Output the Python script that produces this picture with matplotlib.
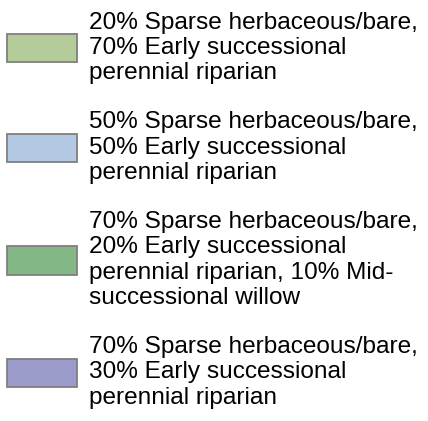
import matplotlib
matplotlib.use('Agg')
import matplotlib.pyplot as plt
from matplotlib.patches import Patch

plt.rcParams['font.family'] = ['Liberation Sans', 'DejaVu Sans']

# legend entries
labels = [
    "20% Sparse herbaceous/bare,\n70% Early successional\nperennial riparian",
    "50% Sparse herbaceous/bare,\n50% Early successional\nperennial riparian",
    "70% Sparse herbaceous/bare,\n20% Early successional\nperennial riparian, 10% Mid-\nsuccessional willow",
    "70% Sparse herbaceous/bare,\n30% Early successional\nperennial riparian",
]
colors = ['#b3cc99', '#b3c8e3', '#85b887', '#9b9bcc']
edge = '#7f7f7f'

fig = plt.figure(figsize=(4.28, 4.21), dpi=100)
fig.patch.set_facecolor('white')

handles = [Patch(facecolor=c, edgecolor=edge, linewidth=1.3) for c in colors]
leg = fig.legend(handles, labels, loc='upper left', bbox_to_anchor=(0, 0.99),
                 frameon=False, fontsize=17.6, handlelength=2.86,
                 handleheight=1.4, handletextpad=0.5, labelspacing=1.1,
                 borderaxespad=0.0, borderpad=0.3)
for t in leg.get_texts():
    t.set_linespacing(1.2)

fig.savefig('out.png', dpi=100, facecolor='white')
